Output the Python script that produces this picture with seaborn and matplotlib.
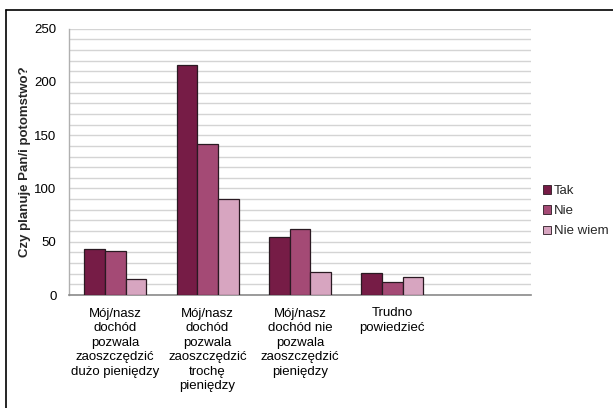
import matplotlib
matplotlib.use("Agg")
import matplotlib.pyplot as plt
from matplotlib.lines import Line2D
from matplotlib.patches import Patch
import seaborn as sns
import pandas as pd

categories = [
    "Mój/nasz\ndochód\npozwala\nzaoszczędzić\ndużo pieniędzy",
    "Mój/nasz\ndochód\npozwala\nzaoszczędzić\ntrochę\npieniędzy",
    "Mój/nasz\ndochód nie\npozwala\nzaoszczędzić\npieniędzy",
    "Trudno\npowiedzieć",
    "",
]
series = ["Tak", "Nie", "Nie wiem"]
tak = [43, 216, 54, 21]
nie = [41, 142, 62, 12]
nie_wiem = [15, 90, 22, 17]
colors = ["#761C46", "#A44A75", "#D7A5C0"]
y_ticks = [0, 50, 100, 150, 200, 250]

rows = []
for s, vals in zip(series, [tak, nie, nie_wiem]):
    for c, v in zip(categories[:4], vals):
        rows.append({"cat": c, "series": s, "value": v})
df = pd.DataFrame(rows)

sns.set_theme(style="white")
plt.rcParams["font.family"] = ["Liberation Sans", "DejaVu Sans"]
FS = 9.5

fig = plt.figure(figsize=(6.13, 4.08), dpi=100)
ax = fig.add_axes([69 / 613, 1 - 295 / 408, (531 - 69) / 613, (295 - 28.7) / 408])

sns.barplot(data=df, x="cat", y="value", hue="series", order=categories,
            hue_order=series, palette=colors, width=0.67, ax=ax,
            edgecolor="#2a1a22", linewidth=0.9, saturation=1, legend=False,
            errorbar=None, zorder=3)

ax.set_xlim(-0.5, 4.5)
ax.set_ylim(0, 250)
ax.set_yticks(y_ticks)
ax.set_yticks(range(0, 251, 10), minor=True)
ax.grid(True, which="both", axis="y", color="#d4d4d4", linewidth=1.0, zorder=0)
ax.set_axisbelow(True)
ax.tick_params(axis="y", which="both", length=0, pad=9, labelsize=FS, colors="black")
ax.tick_params(axis="x", length=0, pad=9, labelsize=FS, colors="black")
for lab in ax.get_xticklabels():
    lab.set_linespacing(1.28)
    lab.set_verticalalignment("top")
ax.set_xlabel("")
ax.set_ylabel("Czy planuje Pan/i potomstwo?", fontsize=FS, fontweight="bold", labelpad=2.5)
for side in ["top", "right"]:
    ax.spines[side].set_visible(False)
ax.spines["left"].set_color("#b0b0b0")
ax.spines["bottom"].set_color("#8a8a8a")
ax.spines["left"].set_linewidth(1.0)
ax.spines["bottom"].set_linewidth(1.2)

handles = [Patch(facecolor=c, edgecolor="#2a1a22", linewidth=0.6) for c in colors]
fig.legend(handles, series, loc="upper left", bbox_to_anchor=(543 / 613, 1 - 185 / 408),
           frameon=False, fontsize=FS, handlelength=0.6, handleheight=0.6,
           handletextpad=0.2, labelspacing=0.62, borderaxespad=0, borderpad=0)

# outer chart border (left and top edges visible)
fig.add_artist(Line2D([6 / 613, 6 / 613], [0, 1 - 9.5 / 408], color="black", lw=1.2,
                      transform=fig.transFigure))
fig.add_artist(Line2D([6 / 613, 1], [1 - 9.5 / 408, 1 - 9.5 / 408], color="black", lw=1.2,
                      transform=fig.transFigure))

fig.savefig("out.png", dpi=100)
